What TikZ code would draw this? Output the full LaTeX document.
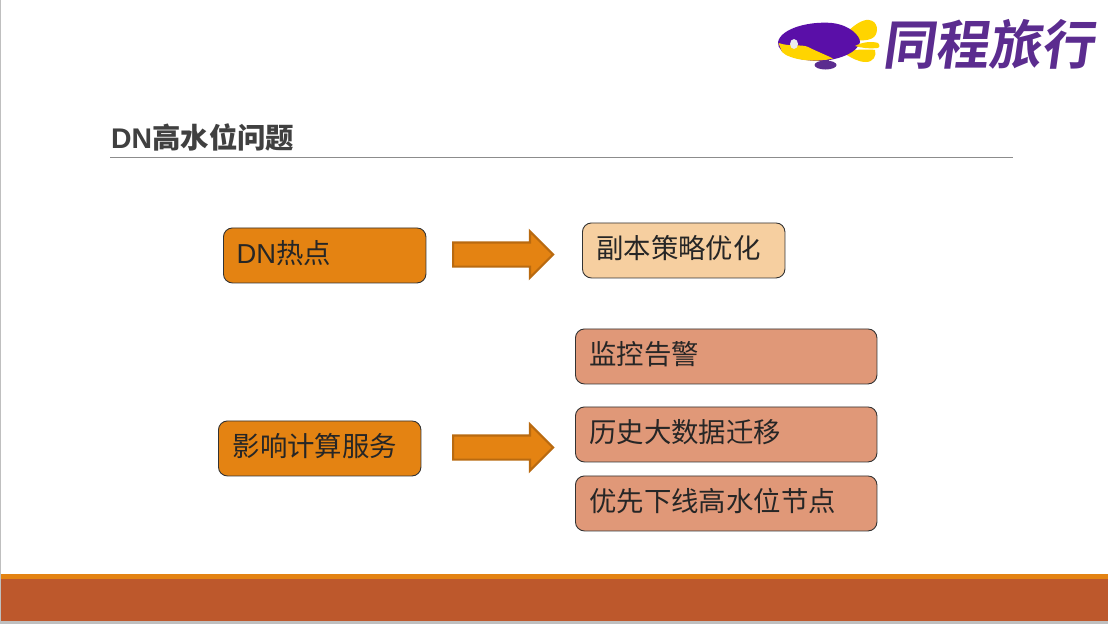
\documentclass[tikz,border=0pt]{standalone}
\usepackage{fontspec}
\usetikzlibrary{shapes.arrows}
\setmainfont{Liberation Sans}
\newfontfamily\cjk{Noto Sans CJK SC}
\newfontfamily\logofont[FakeSlant=0.14,BoldFont={Noto Sans CJK SC Bold}]{Noto Sans CJK SC}
\definecolor{orangeA}{HTML}{E48312}
\definecolor{brownA}{HTML}{BD582C}
\definecolor{peachA}{HTML}{F6CFA0}
\definecolor{salmonA}{HTML}{E09878}
\definecolor{arrowline}{HTML}{B96A10}
\definecolor{titlegray}{HTML}{404040}
\definecolor{purpleA}{HTML}{5B2C8F}
\definecolor{purpleB}{HTML}{5A0FA8}
\definecolor{yellowA}{HTML}{FFD400}
\tikzset{
  every node/.style={font=\fontsize{27.4}{30}\selectfont},
  box/.style={draw=black!80,line width=0.9pt,rounded corners=9pt,minimum width=202.5pt,minimum height=55pt,inner sep=0pt,anchor=north west,text=black!90},
  label/.style={anchor=west,inner sep=0pt,text=black!85},
  blockarrow/.style={single arrow,draw=arrowline,line width=2.2pt,fill=orangeA,inner xsep=0pt,inner ysep=11pt,minimum height=100pt,minimum width=45pt,single arrow head extend=11pt,single arrow tip angle=90,anchor=west},
}
\begin{document}
\begin{tikzpicture}[x=1pt,y=-1pt]
\useasboundingbox (0,0) rectangle (1108,624);
\fill[white] (0,0) rectangle (1108,624);
% frame
\fill[black!25] (0,0) rectangle (1.3,624);
\fill[black!25] (0,621) rectangle (1108,624);
\fill[orangeA] (1.3,573.5) rectangle (1108,579);
\fill[brownA] (1.3,579) rectangle (1108,621);
% logo: blimp
\fill[yellowA] (845,34) .. controls (853,26) and (862,19) .. (869,20) .. controls (878,21) and (879,32) .. (874,37) .. controls (868,42) and (858,40) .. (845,40) -- cycle;
\fill[yellowA] (845,50) .. controls (858,50) and (870,49) .. (875,50) .. controls (877,56) and (873,62) .. (866,62) .. controls (858,62) and (852,58) .. (845,54) -- cycle;
\fill[purpleB] (778,42) .. controls (781,28) and (810,21) .. (832,23) .. controls (850,25) and (860,36) .. (860,42) .. controls (858,52) and (840,60) .. (820,61) .. controls (800,61) and (777,55) .. (778,42) -- cycle;
\fill[yellowA] (778.5,43) .. controls (790,47) and (802,44) .. (808,47) .. controls (816,51) and (826,55) .. (833,58.5) .. controls (815,63) and (790,60) .. (782,52) -- cycle;
\fill[yellowA] (855,46) .. controls (862,42) and (872,41) .. (878,43) .. controls (880,45) and (880,48) .. (877,48) .. controls (870,49) and (862,48) .. (855,46) -- cycle;
\fill[white!92!black] (794,44) ellipse (4pt and 5pt);
\fill[purpleA] (823,60) rectangle (829,64);
\fill[purpleA] (825.5,65) ellipse (11pt and 4.5pt);
\node[text=purpleA,anchor=center,inner sep=0pt,font=\logofont\bfseries\fontsize{53}{53}\selectfont] (logo) at (988.5,44) {同程旅行};
% title
\node[anchor=west,inner sep=0pt,text=titlegray,font=\bfseries\fontsize{28.4}{30}\selectfont] (title) at (111,137.5) {DN{\cjk\bfseries 高水位问题}};
\fill[black!45] (110,156.7) rectangle (1013,157.7);
% boxes
\node[box,fill=orangeA] (dn) at (223,227.5) {};
\node[label] (dnt) at (236.5,253.5) {DN{\cjk 热点}};
\node[box,fill=orangeA] (calc) at (218,420.5) {};
\node[label] (calct) at (232.5,446.5) {\cjk 影响计算服务};
\node[box,fill=peachA] (rep) at (582,222.5) {};
\node[label] (rept) at (596,248.5) {\cjk 副本策略优化};
\node[box,fill=salmonA,minimum width=301.5pt] (mon) at (575,328.5) {};
\node[label] (mont) at (589,354.5) {\cjk 监控告警};
\node[box,fill=salmonA,minimum width=301.5pt] (his) at (575,406.5) {};
\node[label] (hist) at (589,432.5) {\cjk 历史大数据迁移};
\node[box,fill=salmonA,minimum width=301.5pt] (off) at (575,475.5) {};
\node[label] (offt) at (589,501.5) {\cjk 优先下线高水位节点};
% arrows
\node[blockarrow] (a1) at (452,254.5) {};
\node[blockarrow] (a2) at (452,447.5) {};
\end{tikzpicture}
\end{document}
